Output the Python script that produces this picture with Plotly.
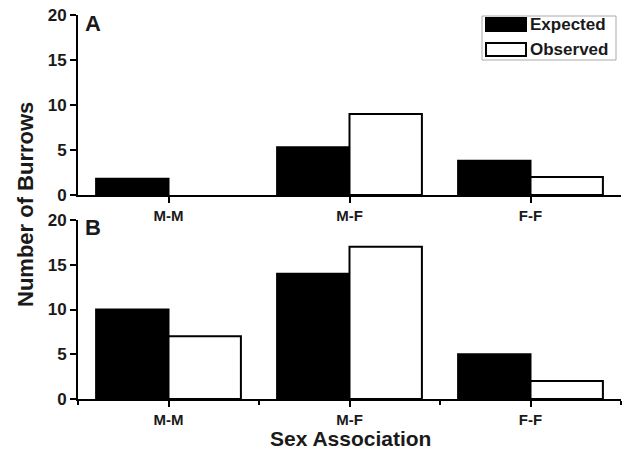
import plotly.graph_objects as go

categories = ["M-M", "M-F", "F-F"]
expected_a = [1.8, 5.3, 3.8]
observed_a = [0, 9.0, 2.0]
expected_b = [10.0, 14.0, 5.0]
observed_b = [7.0, 17.0, 2.0]
y_ticks = [0, 5, 10, 15, 20]
series_names = ["Expected", "Observed"]

W, H = 627, 457
FONT = "Liberation Sans, Arial, sans-serif"
TXT = "#1a1a1a"

def px(x):
    return x / W

def py(y):
    return 1 - y / H

fig = go.Figure()
xs = list(range(len(categories)))

def bar(vals, name, fill, xa, ya, og):
    lw = [0 if v == 0 else 2 for v in vals]
    return go.Bar(x=xs, y=vals, name=name, marker=dict(color=fill, line=dict(color="black", width=lw)),
                  xaxis=xa, yaxis=ya, offsetgroup=og, showlegend=False, hoverinfo="skip")

fig.add_trace(bar(expected_a, series_names[0], "black", "x", "y", "e"))
fig.add_trace(bar(observed_a, series_names[1], "white", "x", "y", "o"))
fig.add_trace(bar(expected_b, series_names[0], "black", "x2", "y2", "e"))
fig.add_trace(bar(observed_b, series_names[1], "white", "x2", "y2", "o"))

xaxis_common = dict(range=[-0.5, 2.5], tickvals=xs, ticktext=[f"<b>{c}</b>" for c in categories],
                    showline=True, linecolor="black", linewidth=2, automargin=False, ticklabeloverflow="allow",
                    ticks="outside", ticklen=6, tickwidth=2, tickcolor="black", showgrid=False, zeroline=False,
                    tickfont=dict(family=FONT, size=15, color=TXT), domain=[px(78), px(621)])
yaxis_common = dict(range=[0, 20], tickvals=y_ticks, ticktext=[f"<b>{t}</b>" for t in y_ticks],
                    showline=True, linecolor="black", linewidth=2, automargin=False, ticklabeloverflow="allow",
                    ticks="outside", ticklen=6, tickwidth=2, tickcolor="black", showgrid=False, zeroline=False,
                    tickfont=dict(family=FONT, size=17, color=TXT))

# custom legend with wide swatches
leg_x0, leg_y0, leg_x1, leg_y1 = 482, 16, 616, 60
shapes = [
    dict(type="rect", xref="paper", yref="paper", x0=px(leg_x0), x1=px(leg_x1), y0=py(leg_y1), y1=py(leg_y0),
         line=dict(color="#aaa", width=1), fillcolor="white", layer="above"),
    dict(type="rect", xref="paper", yref="paper", x0=px(486), x1=px(526), y0=py(31), y1=py(18),
         line=dict(color="black", width=2), fillcolor="black", layer="above"),
    dict(type="rect", xref="paper", yref="paper", x0=px(486), x1=px(526), y0=py(56), y1=py(43),
         line=dict(color="black", width=2), fillcolor="white", layer="above"),
]

fig.update_layout(
    width=W, height=H,
    margin=dict(l=0, r=0, t=0, b=0, autoexpand=False),
    paper_bgcolor="white", plot_bgcolor="white",
    barmode="group", bargap=0.2, bargroupgap=0,
    font=dict(family=FONT, color=TXT),
    xaxis=dict(**xaxis_common, anchor="y"),
    yaxis=dict(**yaxis_common, anchor="x", domain=[py(195), py(15)]),
    xaxis2=dict(**xaxis_common, anchor="y2",
                minor=dict(tickvals=[-0.5, 0.5, 1.5, 2.5], ticks="outside", ticklen=4, tickwidth=2, tickcolor="black")),
    yaxis2=dict(**yaxis_common, anchor="x2", domain=[py(399), py(220)]),
    showlegend=False,
    shapes=shapes,
    annotations=[
        dict(text=f"<b>{series_names[0]}</b>", x=px(528), y=py(25), xref="paper", yref="paper", xanchor="left",
             yanchor="middle", showarrow=False, font=dict(family=FONT, size=17, color=TXT)),
        dict(text=f"<b>{series_names[1]}</b>", x=px(528), y=py(49), xref="paper", yref="paper", xanchor="left",
             yanchor="middle", showarrow=False, font=dict(family=FONT, size=17, color=TXT)),
        dict(text="<b>A</b>", x=px(83), y=py(9), xref="paper", yref="paper", xanchor="left", yanchor="top",
             showarrow=False, font=dict(family=FONT, size=22, color=TXT)),
        dict(text="<b>B</b>", x=px(83), y=py(213), xref="paper", yref="paper", xanchor="left", yanchor="top",
             showarrow=False, font=dict(family=FONT, size=22, color=TXT)),
        dict(text="<b>Number of Burrows</b>", x=px(25), y=py(205), xref="paper", yref="paper", textangle=-90,
             xanchor="center", yanchor="middle",
             showarrow=False, font=dict(family=FONT, size=22, color=TXT)),
        dict(text="<b>Sex Association</b>", x=px(350), y=py(438), xref="paper", yref="paper",
             xanchor="center", yanchor="middle",
             showarrow=False, font=dict(family=FONT, size=21, color=TXT)),
    ],
)

fig.write_html("out.html", config={"displayModeBar": False},
               post_script="document.body.style.margin='0';")
